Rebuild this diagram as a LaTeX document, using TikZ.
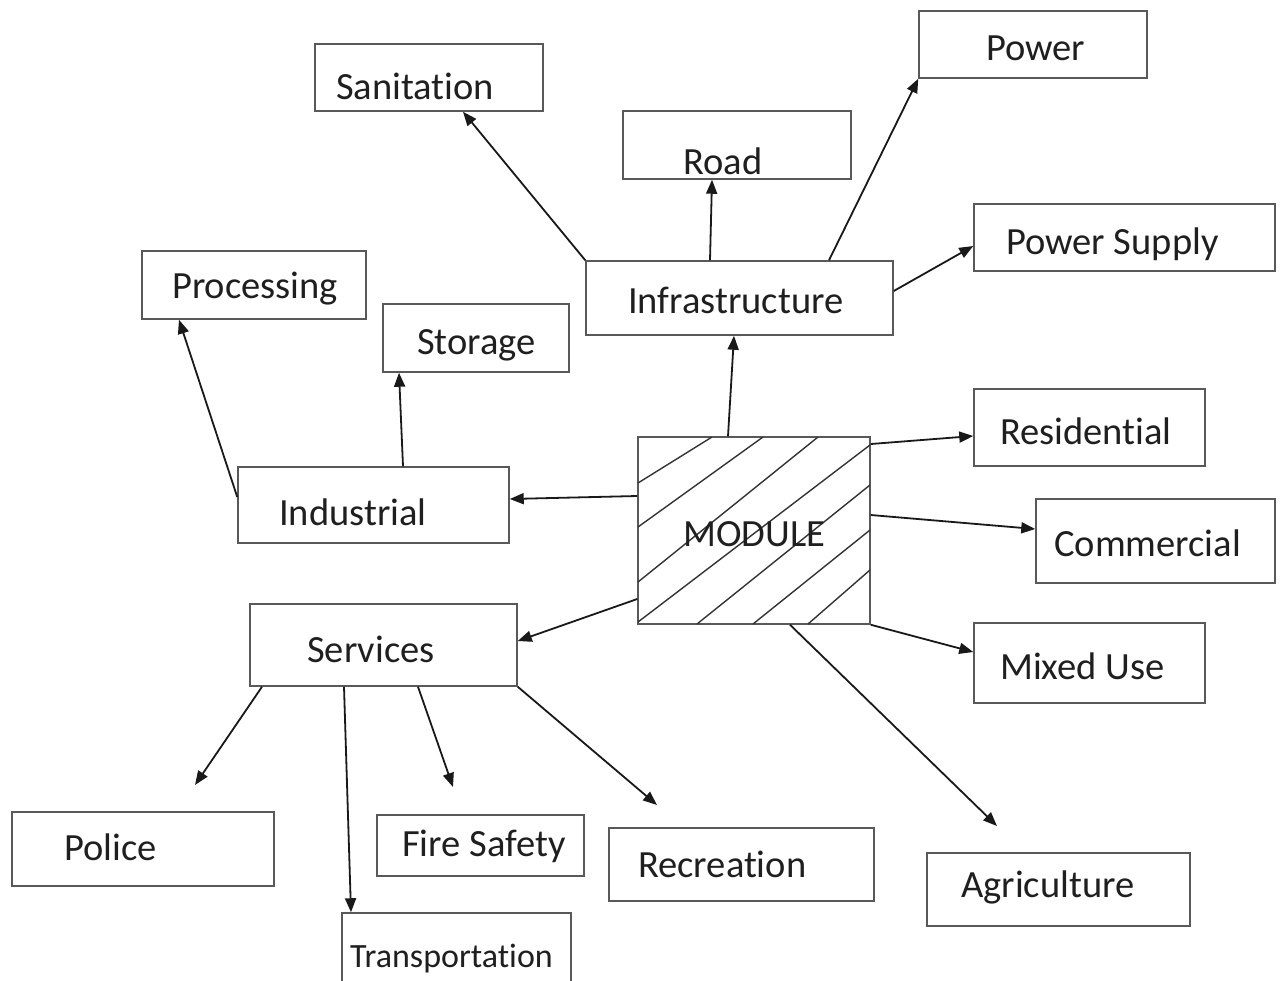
\documentclass[tikz,border=0pt]{standalone}
\usepackage{fontspec}
\setmainfont{Carlito}[Ligatures={NoCommon}]
\usetikzlibrary{arrows.meta,calc}
\begin{document}
\begin{tikzpicture}[x=1pt,y=-1pt,
  box/.style={draw=black!65,line width=1.5pt,inner sep=0pt,rectangle},
  txt/.style={inner sep=0pt,anchor=base west,text=black!88,font=\fontsize{38.5}{40}\selectfont},
  stxt/.style={txt,font=\fontsize{34}{36}\selectfont},
  conn/.style={draw=black!90,line width=1.8pt,-{Triangle[length=14pt,width=11pt]}},
  hatch/.style={draw=black!80,line width=1.4pt}]
\useasboundingbox[fill=white] (0,0) rectangle (1282,980);
% boxes
\node[box,minimum width=307,minimum height=74] (inf) at (739.5,298) {};
\node[box,minimum width=228,minimum height=67] (san) at (429,77.5) {};
\node[box,minimum width=228,minimum height=67] (pow) at (1033,44.5) {};
\node[box,minimum width=228,minimum height=68] (road) at (737,145) {};
\node[box,minimum width=301,minimum height=67] (psup) at (1124.5,237.5) {};
\node[box,minimum width=224,minimum height=68] (proc) at (254,285) {};
\node[box,minimum width=186,minimum height=68] (stor) at (476,338) {};
\node[box,minimum width=271,minimum height=76] (ind) at (373.5,505) {};
\node[box,minimum width=232,minimum height=187] (mod) at (754,530.5) {};
\node[box,minimum width=231,minimum height=77] (res) at (1089.5,427.5) {};
\node[box,minimum width=239,minimum height=84] (com) at (1155.5,541) {};
\node[box,minimum width=231,minimum height=80] (mix) at (1089.5,663) {};
\node[box,minimum width=267,minimum height=82] (srv) at (383.5,645) {};
\node[box,minimum width=262,minimum height=74] (pol) at (143,849) {};
\node[box,minimum width=207,minimum height=61] (fire) at (480.5,845.5) {};
\node[box,minimum width=265,minimum height=73] (rec) at (741.5,864.5) {};
\node[box,minimum width=263,minimum height=73] (agr) at (1058.5,889.5) {};
\node[box,minimum width=229,minimum height=80] (trn) at (456.5,953) {};
% hatching of MODULE
\draw[hatch] (638,483) -- (712,437);
\draw[hatch] (638,527) -- (763,437);
\draw[hatch] (638,582) -- (818,437);
\draw[hatch] (638,622) -- (870,445);
\draw[hatch] (697,624) -- (870,485);
\draw[hatch] (753,624) -- (870,530);
\draw[hatch] (808,624) -- (870,570);
% texts
\node[txt] (tsan) at (336,99) {Sanitation};
\node[txt] (tpow) at (986,60) {Power};
\node[txt] (troad) at (683,174) {Road};
\node[txt] (tpsup) at (1006,254) {Power Supply};
\node[txt] (tinf) at (628,313) {Infrastructure};
\node[txt] (tproc) at (172,298) {Processing};
\node[txt] (tstor) at (417,354) {Storage};
\node[txt] (tind) at (279,525) {Industrial};
\node[txt] (tmod) at (683,546) {MODULE};
\node[txt] (tres) at (1000,444) {Residential};
\node[txt] (tcom) at (1054,556) {Commercial};
\node[txt] (tmix) at (1000,679) {Mixed Use};
\node[txt] (tsrv) at (307,662) {Services};
\node[txt] (tpol) at (64,860) {Police};
\node[txt] (tfire) at (402,856) {Fire Safety};
\node[txt] (trec) at (638,877) {Recreation};
\node[txt] (tagr) at (961,897) {Agriculture};
\node[stxt] (ttrn) at (350,967) {Transportation};
% free ends
\coordinate (agrA) at (997,826);
\coordinate (polA) at (195,785);
\coordinate (fireA) at (453,787);
\coordinate (recA) at (657,805);
% connectors
\draw[conn] (inf.north west) -- (463,0 |- san.south);
\draw[conn] (710,0 |- inf.north) -- (712,0 |- road.south);
\draw[conn] (829,0 |- inf.north) -- (pow.south west);
\draw[conn] (inf.east |- 0,291) -- (psup.west |- 0,246);
\draw[conn] (728,0 |- mod.north) -- (734,0 |- inf.south);
\draw[conn] (403,0 |- ind.north) -- (399,0 |- stor.south);
\draw[conn] (ind.west |- 0,497) -- (179,0 |- proc.south);
\draw[conn] (mod.west |- 0,496) -- (ind.east |- 0,499);
\draw[conn] (mod.east |- 0,444) -- (res.west |- 0,436);
\draw[conn] (mod.east |- 0,515) -- (com.west |- 0,529);
\draw[conn] (mod.south east) -- (mix.west |- 0,652);
\draw[conn] (790,0 |- mod.south) -- (agrA);
\draw[conn] (mod.west |- 0,599) -- (srv.east |- 0,641);
\draw[conn] (262,0 |- srv.south) -- (polA);
\draw[conn] (344,0 |- srv.south) -- (351,0 |- trn.north);
\draw[conn] (418,0 |- srv.south) -- (fireA);
\draw[conn] (srv.south east) -- (recA);
\end{tikzpicture}
\end{document}
